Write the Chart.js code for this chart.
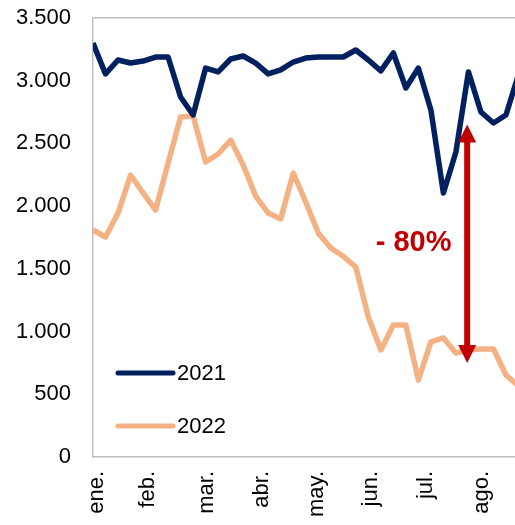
<!DOCTYPE html>
<html>
<head>
<meta charset="utf-8">
<script src="https://cdn.jsdelivr.net/npm/chart.js@4/dist/chart.umd.min.js"></script>
<style>
  html, body { margin: 0; padding: 0; background: #fff; overflow: hidden; }
  #wrap { width: 515px; height: 525px; overflow: hidden; }
</style>
</head>
<body>
<div id="wrap"><canvas id="chart" width="531" height="525"></canvas></div>
<script>
// Datos semanales (semana 0 = primera semana de enero)
const serie2021 = [3300, 3054, 3165, 3141, 3157, 3189, 3189, 2870, 2727, 3101,
                   3070, 3173, 3197, 3140, 3054, 3086, 3149, 3181, 3189, 3189,
                   3189, 3245, 3165, 3078, 3221, 2942, 3101, 2767, 2105, 2432,
                   3070, 2751, 2663, 2727, 3050];
const serie2022 = [1810, 1754, 1945, 2248, 2105, 1969, 2344, 2711, 2719, 2352,
                   2416, 2527, 2328, 2080, 1945, 1898, 2264, 2033, 1786, 1666,
                   1600, 1515, 1116, 853, 1052, 1052, 614, 917, 949, 829,
                   853, 861, 861, 654, 566];
const years = ['2021', '2022'];

// etiquetas de meses y su posición (en semanas)
const monthLabels = ['ene.', 'feb.', 'mar.', 'abr.', 'may.', 'jun.', 'jul.', 'ago.'];
const monthPos = [0.3, 4.4, 9.1, 13.5, 17.9, 22.2, 26.6, 31.1];

// flecha de la caída (en unidades de datos)
const arrowWeek = 29.9;
const arrowFrom = 2650;
const arrowTo = 750;
const dropLabel = '- 80%';
const dropLabelWeek = 28.65;
const dropLabelValue = 1710;

const toPoints = arr => arr.map((v, i) => ({ x: i, y: v }));
const fmt = v => String(v).replace(/\B(?=(\d{3})+(?!\d))/g, '.');

const FONT = "'Liberation Sans', Arial, sans-serif";

// leyenda dentro del área del gráfico
const insideLegend = {
  id: 'insideLegend',
  afterDatasetsDraw(chart) {
    const { ctx, chartArea } = chart;
    ctx.save();
    chart.data.datasets.forEach((ds, i) => {
      const y = chartArea.bottom - 84 + i * 53;
      const x = chartArea.left + 25;
      ctx.strokeStyle = ds.borderColor;
      ctx.lineWidth = 5;
      ctx.lineCap = 'round';
      ctx.beginPath();
      ctx.moveTo(x, y);
      ctx.lineTo(x + 55, y);
      ctx.stroke();
      ctx.fillStyle = '#000';
      ctx.font = '22px ' + FONT;
      ctx.textAlign = 'left';
      ctx.textBaseline = 'middle';
      ctx.fillText(ds.label, x + 59, y + 1);
    });
    ctx.restore();
  }
};

// flecha roja con el porcentaje
const dropArrow = {
  id: 'dropArrow',
  afterDatasetsDraw(chart) {
    const { ctx, scales } = chart;
    const x = scales.x.getPixelForValue(arrowWeek);
    const yTop = scales.y.getPixelForValue(arrowFrom);
    const yBot = scales.y.getPixelForValue(arrowTo);
    const head = 18, half = 9;
    ctx.save();
    ctx.fillStyle = '#C00000';
    ctx.strokeStyle = '#C00000';
    ctx.lineWidth = 6;
    ctx.beginPath();
    ctx.moveTo(x, yTop + head - 1);
    ctx.lineTo(x, yBot - head + 1);
    ctx.stroke();
    ctx.beginPath();
    ctx.moveTo(x, yTop);
    ctx.lineTo(x - half, yTop + head);
    ctx.lineTo(x + half, yTop + head);
    ctx.closePath();
    ctx.fill();
    ctx.beginPath();
    ctx.moveTo(x, yBot);
    ctx.lineTo(x - half, yBot - head);
    ctx.lineTo(x + half, yBot - head);
    ctx.closePath();
    ctx.fill();
    ctx.font = 'bold 29px ' + FONT;
    ctx.textAlign = 'right';
    ctx.textBaseline = 'middle';
    ctx.fillText(dropLabel, scales.x.getPixelForValue(dropLabelWeek), scales.y.getPixelForValue(dropLabelValue));
    ctx.restore();
  }
};

new Chart(document.getElementById('chart'), {
  type: 'line',
  data: {
    datasets: [
      {
        label: years[0],
        data: toPoints(serie2021),
        borderColor: '#002060',
        borderWidth: 5.5,
        pointRadius: 0,
        tension: 0,
        borderJoinStyle: 'round'
      },
      {
        label: years[1],
        data: toPoints(serie2022),
        borderColor: '#F4B183',
        borderWidth: 5.5,
        pointRadius: 0,
        tension: 0,
        borderJoinStyle: 'round'
      }
    ]
  },
  options: {
    responsive: false,
    animation: false,
    layout: { padding: { top: 18, left: 0, right: 0, bottom: 0 } },
    plugins: {
      legend: { display: false },
      tooltip: { enabled: false }
    },
    scales: {
      x: {
        type: 'linear',
        min: 0,
        max: 35,
        afterBuildTicks: scale => { scale.ticks = monthPos.map(v => ({ value: v })); },
        afterFit: scale => {
          scale.height = 68;
          scale.paddingLeft = 0;
          scale.paddingRight = 0;
        },
        grid: { display: false, drawTicks: false },
        border: { color: '#bfbfbf', width: 1.5 },
        ticks: {
          autoSkip: false,
          minRotation: 90,
          maxRotation: 90,
          padding: 14,
          color: '#000',
          font: { family: FONT, size: 22 },
          callback: (v, i) => monthLabels[i]
        }
      },
      y: {
        min: 0,
        max: 3500,
        afterFit: scale => {
          scale.width = 93;
          scale.paddingTop = 0;
          scale.paddingBottom = 0;
        },
        grid: {
          drawTicks: false,
          lineWidth: 1.5,
          color: c => (c.tick && c.tick.value === 3500 ? '#bfbfbf' : 'rgba(0,0,0,0)')
        },
        border: { color: '#bfbfbf', width: 1.5 },
        ticks: {
          stepSize: 500,
          padding: 22,
          color: '#000',
          font: { family: FONT, size: 22 },
          callback: v => fmt(v)
        }
      }
    }
  },
  plugins: [insideLegend, dropArrow]
});
</script>
</body>
</html>
